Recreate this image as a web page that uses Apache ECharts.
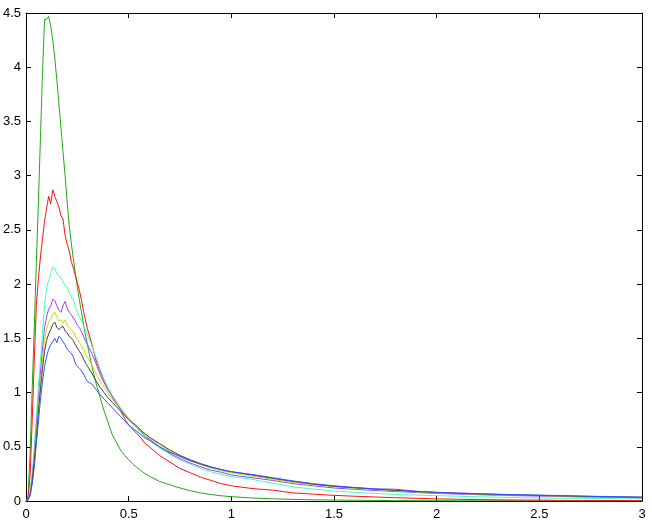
<!DOCTYPE html>
<html>
<head>
<meta charset="utf-8">
<script src="https://cdn.jsdelivr.net/npm/echarts@6/dist/echarts.min.js"></script>
<style>
  html, body { margin: 0; padding: 0; background: #fff; }
  #chart { width: 652px; height: 523px; }
</style>
</head>
<body>
<div id="chart"></div>
<script>
// shared x positions
var xs = [0, 0.01, 0.02, 0.03, 0.04, 0.05, 0.06, 0.07, 0.08, 0.09, 0.10, 0.11, 0.12, 0.13, 0.14, 0.15, 0.16, 0.17, 0.18, 0.19, 0.20, 0.21, 0.22, 0.23, 0.24, 0.25, 0.26, 0.27, 0.28, 0.29, 0.30,
  0.32, 0.34, 0.36, 0.38, 0.40, 0.42, 0.44, 0.46, 0.48, 0.50, 0.52, 0.54, 0.56, 0.58, 0.60,
  0.65, 0.70, 0.75, 0.80, 0.85, 0.90, 0.95, 1.00,
  1.1, 1.2, 1.3, 1.4, 1.5, 1.6, 1.7, 1.8, 1.9, 2.0, 2.1, 2.2, 2.3, 2.4, 2.5, 2.6, 2.7, 2.8, 2.9, 3.0];

var green = [0, 0.05, 0.45, 1.05, 1.6, 2.2, 2.75, 3.35, 3.95, 4.44, 4.44, 4.47, 4.38, 4.25, 4.08, 3.88, 3.66, 3.44, 3.22, 3.0, 2.76, 2.54, 2.38, 2.24, 2.1, 1.97, 1.85, 1.74, 1.63, 1.52, 1.43,
  1.25, 1.09, 0.96, 0.83, 0.72, 0.61, 0.54, 0.47, 0.42, 0.38, 0.34, 0.31, 0.28, 0.25, 0.23,
  0.18, 0.15, 0.12, 0.095, 0.075, 0.06, 0.048, 0.04,
  0.028, 0.02, 0.015, 0.011, 0.009, 0.007, 0.005, 0.004, 0.003, 0.003, 0.002, 0.002, 0.002, 0.001, 0.001, 0.001, 0.001, 0.001, 0.001, 0.001];

var red = [0, 0.03, 0.25, 0.75, 1.3, 1.8, 2.05, 2.25, 2.42, 2.58, 2.7, 2.81, 2.74, 2.87, 2.81, 2.76, 2.71, 2.63, 2.6, 2.45, 2.37, 2.31, 2.21, 2.15, 2.08, 2.01, 1.94, 1.85, 1.75, 1.66, 1.58,
  1.45, 1.3, 1.2, 1.11, 1.03, 0.97, 0.9, 0.84, 0.76, 0.7, 0.66, 0.62, 0.58, 0.53, 0.5,
  0.42, 0.36, 0.3, 0.26, 0.22, 0.19, 0.16, 0.14,
  0.115, 0.1, 0.075, 0.063, 0.052, 0.044, 0.037, 0.03, 0.025, 0.02, 0.016, 0.013, 0.011, 0.009, 0.008, 0.006, 0.005, 0.004, 0.004, 0.003];

var cyan = [0, 0.01, 0.1, 0.25, 0.5, 0.78, 1.05, 1.3, 1.55, 1.8, 1.97, 2.03, 2.1, 2.16, 2.14, 2.1, 2.07, 2.06, 2.02, 1.99, 1.97, 1.93, 1.88, 1.86, 1.79, 1.74, 1.7, 1.66, 1.62, 1.57, 1.53,
  1.43, 1.33, 1.22, 1.12, 1.04, 0.97, 0.92, 0.86, 0.81, 0.76, 0.71, 0.67, 0.63, 0.59, 0.56,
  0.49, 0.43, 0.38, 0.34, 0.3, 0.27, 0.245, 0.225,
  0.2, 0.165, 0.13, 0.11, 0.092, 0.08, 0.07, 0.061, 0.055, 0.049, 0.044, 0.039, 0.035, 0.031, 0.028, 0.026, 0.024, 0.022, 0.02, 0.019];

var purple = [0, 0.01, 0.08, 0.22, 0.42, 0.68, 0.93, 1.18, 1.4, 1.6, 1.7, 1.77, 1.8, 1.86, 1.85, 1.8, 1.76, 1.74, 1.8, 1.84, 1.78, 1.74, 1.72, 1.69, 1.66, 1.62, 1.6, 1.56, 1.52, 1.47, 1.44,
  1.36, 1.27, 1.17, 1.09, 1.02, 0.96, 0.9, 0.85, 0.8, 0.76, 0.72, 0.68, 0.64, 0.6, 0.57,
  0.5, 0.44, 0.39, 0.35, 0.315, 0.285, 0.265, 0.24,
  0.215, 0.19, 0.16, 0.14, 0.12, 0.108, 0.097, 0.087, 0.078, 0.07, 0.064, 0.058, 0.053, 0.049, 0.045, 0.042, 0.038, 0.035, 0.032, 0.03];

var yellow = [0, 0.01, 0.07, 0.2, 0.4, 0.63, 0.88, 1.1, 1.3, 1.48, 1.58, 1.65, 1.68, 1.73, 1.74, 1.7, 1.66, 1.67, 1.64, 1.67, 1.62, 1.6, 1.58, 1.56, 1.52, 1.49, 1.46, 1.43, 1.4, 1.35, 1.32,
  1.26, 1.18, 1.11, 1.05, 0.99, 0.94, 0.89, 0.84, 0.8, 0.76, 0.72, 0.68, 0.65, 0.61, 0.58,
  0.52, 0.46, 0.41, 0.37, 0.335, 0.305, 0.28, 0.26,
  0.23, 0.2, 0.17, 0.15, 0.13, 0.118, 0.106, 0.095, 0.085, 0.076, 0.07, 0.064, 0.059, 0.054, 0.05, 0.046, 0.042, 0.039, 0.036, 0.033];

var black = [0, 0.01, 0.06, 0.18, 0.37, 0.58, 0.82, 1.03, 1.22, 1.38, 1.48, 1.54, 1.58, 1.63, 1.65, 1.6, 1.58, 1.6, 1.61, 1.57, 1.55, 1.52, 1.5, 1.48, 1.44, 1.41, 1.38, 1.35, 1.31, 1.27, 1.24,
  1.18, 1.11, 1.05, 1.0, 0.95, 0.91, 0.87, 0.83, 0.79, 0.75, 0.72, 0.69, 0.65, 0.62, 0.59,
  0.53, 0.47, 0.42, 0.38, 0.345, 0.315, 0.29, 0.27,
  0.24, 0.21, 0.18, 0.155, 0.135, 0.122, 0.11, 0.098, 0.088, 0.079, 0.072, 0.066, 0.061, 0.056, 0.052, 0.048, 0.044, 0.04, 0.037, 0.034];

var blue = [0, 0.01, 0.05, 0.16, 0.31, 0.52, 0.73, 0.93, 1.1, 1.24, 1.33, 1.4, 1.44, 1.47, 1.5, 1.46, 1.52, 1.5, 1.47, 1.44, 1.4, 1.38, 1.36, 1.33, 1.27, 1.24, 1.22, 1.2, 1.17, 1.13, 1.1,
  1.08, 1.03, 0.98, 0.94, 0.9, 0.86, 0.82, 0.78, 0.74, 0.7, 0.67, 0.64, 0.61, 0.58, 0.56,
  0.5, 0.45, 0.41, 0.37, 0.34, 0.31, 0.29, 0.27,
  0.245, 0.215, 0.185, 0.16, 0.14, 0.125, 0.112, 0.108, 0.09, 0.08, 0.074, 0.068, 0.062, 0.058, 0.054, 0.05, 0.046, 0.042, 0.039, 0.036];

var curves = [
  { name: 'g', color: '#22aa11', data: green },
  { name: 'r', color: '#ff1111', data: red },
  { name: 'c', color: '#44ffbb', data: cyan },
  { name: 'm', color: '#a040ff', data: purple },
  { name: 'y', color: '#c4dd10', data: yellow },
  { name: 'k', color: '#404040', data: black },
  { name: 'b', color: '#3355ff', data: blue }
];

var chart = echarts.init(document.getElementById('chart'));

function pairs(ys) {
  return xs.map(function (x, i) { return [x, ys[i]]; });
}

var axisFont = { fontFamily: 'Liberation Sans', fontSize: 13, color: '#000' };
var axisLine = { show: true, onZero: false, lineStyle: { color: '#000', width: 1 } };
var tick = { show: true, inside: true, length: 5, lineStyle: { color: '#000' } };

var option = {
  animation: false,
  backgroundColor: '#fff',
  grid: { left: 23, right: 10, top: 13, bottom: 22 },
  xAxis: [
    {
      type: 'value', min: 0, max: 3, interval: 0.5, position: 'bottom',
      axisLine: axisLine, axisTick: tick, splitLine: { show: false },
      axisLabel: Object.assign({ margin: 7 }, axisFont)
    },
    {
      type: 'value', min: 0, max: 3, interval: 0.5, position: 'top',
      axisLine: axisLine, axisTick: tick, splitLine: { show: false },
      axisLabel: { show: false }
    }
  ],
  yAxis: [
    {
      type: 'value', min: 0, max: 4.5, interval: 0.5, position: 'left',
      axisLine: axisLine, axisTick: tick, splitLine: { show: false },
      axisLabel: Object.assign({ margin: 5 }, axisFont)
    },
    {
      type: 'value', min: 0, max: 4.5, interval: 0.5, position: 'right',
      axisLine: axisLine, axisTick: tick, splitLine: { show: false },
      axisLabel: { show: false }
    }
  ],
  series: curves.map(function (c) {
    return {
      name: c.name,
      type: 'line',
      xAxisIndex: 0,
      yAxisIndex: 0,
      showSymbol: false,
      symbol: 'none',
      data: pairs(c.data),
      lineStyle: { color: c.color, width: 1 },
      itemStyle: { color: c.color }
    };
  })
};

chart.setOption(option);
</script>
</body>
</html>
